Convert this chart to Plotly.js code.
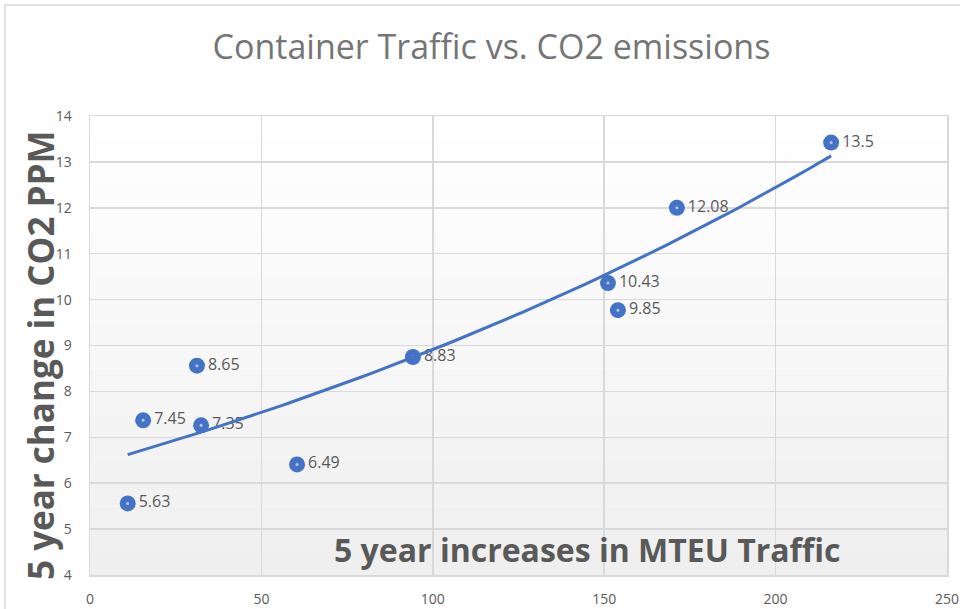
<!DOCTYPE html>
<html>
<head>
<meta charset="utf-8">
<script src="https://cdn.plot.ly/plotly-3.0.1.min.js"></script>
<style>html,body{margin:0;padding:0;background:#fff;}#chart{width:960px;height:609px;}</style>
</head>
<body>
<div id="chart"></div>
<script>
// Data (marker positions as drawn, labels as printed)
const mteuIncrease = [11, 15.5, 31.2, 32.4, 60.4, 94.2, 151.1, 154.0, 171.2, 216.2];
const co2Change    = [5.56, 7.37, 8.56, 7.26, 6.41, 8.75, 10.36, 9.77, 12.0, 13.42];
const pointLabels  = ['5.63', '7.45', '8.65', '7.35', '6.49', '8.83', '10.43', '9.85', '12.08', '13.5'];
const xTicks = [0, 50, 100, 150, 200, 250];
const yTicks = [4, 5, 6, 7, 8, 9, 10, 11, 12, 13, 14];

// Exponential trendline fit (least squares on ln y of the printed values), like Excel
const labelValues = pointLabels.map(Number);
const n = mteuIncrease.length;
const lx = mteuIncrease, ly = labelValues.map(Math.log);
const mx = lx.reduce((a,b)=>a+b,0)/n, my = ly.reduce((a,b)=>a+b,0)/n;
let sxy=0, sxx=0;
for (let i=0;i<n;i++){ sxy += (lx[i]-mx)*(ly[i]-my); sxx += (lx[i]-mx)*(lx[i]-mx); }
const b = sxy/sxx, lnA = my - b*mx;
const xmin = Math.min(...mteuIncrease), xmax = Math.max(...mteuIncrease);
const trendX = [], trendY = [];
for (let k=0;k<=60;k++){ const x = xmin + (xmax-xmin)*k/60; trendX.push(x); trendY.push(Math.exp(lnA + b*x)); }

const blue = '#4472C4';
const traces = [
  {x: mteuIncrease, y: co2Change, mode: 'markers+text', type: 'scatter',
   text: pointLabels, textposition: 'middle right',
   textfont: {family: 'Open Sans, sans-serif', size: 16, color: '#595959'},
   marker: {size: 16, color: blue}, cliponaxis: false, hoverinfo: 'skip'},
  {x: mteuIncrease, y: co2Change, mode: 'markers', type: 'scatter',
   marker: {size: 3, color: '#b4c7e7'}, hoverinfo: 'skip'},
  {x: trendX, y: trendY, mode: 'lines', type: 'scatter',
   line: {color: blue, width: 3}, hoverinfo: 'skip'}
];

// subtle vertical gradient of plot background
const bgShapes = [];
const steps = 20;
for (let i=0;i<steps;i++){
  const t = i/(steps-1);
  const c = Math.round(255 - 16*(1-t));
  bgShapes.push({type:'rect', xref:'paper', yref:'paper', x0:0, x1:1, y0:i/steps, y1:(i+1)/steps,
    fillcolor:`rgb(${c},${c},${c})`, line:{width:0}, layer:'below'});
}
bgShapes.push({type:'rect', xref:'paper', yref:'paper', x0:-0.0992, x1:1.2, y0:-0.2, y1:1.2418,
  line:{color:'#d9d9d9', width:1.5}, fillcolor:'rgba(0,0,0,0)', layer:'below'});

const layout = {
  width: 960, height: 609,
  margin: {l: 90, r: 13, t: 116, b: 34},
  paper_bgcolor: '#ffffff', plot_bgcolor: '#ffffff',
  showlegend: false,
  title: {text: 'Container Traffic vs. CO2 emissions', x: 0.512, xanchor: 'center', y: 0.922, yanchor: 'middle',
          font: {family: 'Open Sans, sans-serif', size: 34, color: '#757575'}},
  xaxis: {range: [0, 250], tickvals: xTicks, ticktext: xTicks.map(String),
          showgrid: true, gridcolor: '#d9d9d9', gridwidth: 1.5, zeroline: false,
          showline: true, linecolor: '#d9d9d9', linewidth: 1.5, mirror: true,
          ticks: '', ticklabelstandoff: 11,
          tickfont: {family: 'Open Sans, sans-serif', size: 14, color: '#595959'}},
  yaxis: {range: [4, 14], tickvals: yTicks, ticktext: yTicks.map(String),
          showgrid: true, gridcolor: '#d9d9d9', gridwidth: 1.5, zeroline: false,
          showline: true, linecolor: '#d9d9d9', linewidth: 1.5, mirror: true,
          ticks: '', ticklabelstandoff: 14,
          tickfont: {family: 'Open Sans, sans-serif', size: 14, color: '#595959'}},
  shapes: bgShapes,
  annotations: [
    {text: '<b>5 year change in CO2 PPM</b>', xref: 'paper', yref: 'paper', x: -0.058, y: 0.48,
     xanchor: 'center', yanchor: 'middle', textangle: -90, showarrow: false,
     font: {family: 'Open Sans, sans-serif', size: 35, color: '#595959'}},
    {text: '<b>5 year increases in MTEU Traffic</b>', xref: 'paper', yref: 'paper', x: 0.58, y: 0.055,
     xanchor: 'center', yanchor: 'middle', showarrow: false,
     font: {family: 'Open Sans, sans-serif', size: 32, color: '#595959'}}
  ]
};

Plotly.newPlot('chart', traces, layout, {displayModeBar: false, staticPlot: true});
</script>
</body>
</html>
